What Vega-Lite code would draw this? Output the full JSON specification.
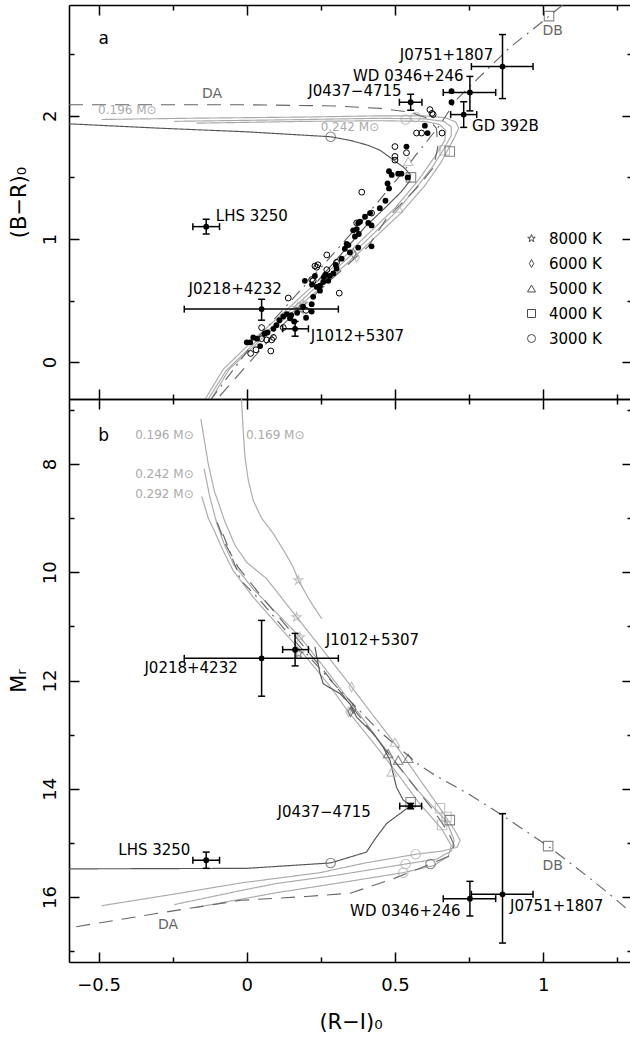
{
  "$schema": "https://vega.github.io/schema/vega-lite/v6.json",
  "padding": {"left": 8, "top": 4, "right": 0, "bottom": 0},
  "spacing": 0,
  "bounds": "flush",
  "config": {
    "font": "DejaVu Sans",
    "view": {"stroke": null},
    "axis": {"domainColor": "black", "domainWidth": 1.6, "tickColor": "black", "tickWidth": 1.5, "grid": false, "labelColor": "black", "titleColor": "black", "labelFontSize": 18, "titleFontSize": 21, "titleFontWeight": "normal", "labelFlush": false, "labelFont": "DejaVu Sans", "titleFont": "DejaVu Sans", "labelOverlap": false}
  },
  "resolve": {"scale": {"shape": "independent"}, "legend": {"shape": "independent"}},
  "datasets": {
    "tracksTop": [
      {"t":"A","x":-0.49,"y":1.97},{"t":"A","x":-0.2,"y":1.98},{"t":"A","x":0.2,"y":1.99},{"t":"A","x":0.45,"y":2.0},{"t":"A","x":0.6,"y":2.0},{"t":"A","x":0.67,"y":1.985},{"t":"A","x":0.705,"y":1.95},{"t":"A","x":0.715,"y":1.9},{"t":"A","x":0.7,"y":1.82},{"t":"A","x":0.655,"y":1.62},{"t":"A","x":0.6,"y":1.43},{"t":"A","x":0.52,"y":1.21},{"t":"A","x":0.37,"y":0.87},{"t":"A","x":0.19,"y":0.48},{"t":"A","x":0.06,"y":0.21},{"t":"A","x":-0.06,"y":-0.06},{"t":"A","x":-0.12,"y":-0.3},
      {"t":"B","x":-0.245,"y":1.955},{"t":"B","x":0.2,"y":1.97},{"t":"B","x":0.45,"y":1.98},{"t":"B","x":0.6,"y":1.975},{"t":"B","x":0.665,"y":1.955},{"t":"B","x":0.69,"y":1.91},{"t":"B","x":0.69,"y":1.84},{"t":"B","x":0.665,"y":1.73},{"t":"B","x":0.625,"y":1.58},{"t":"B","x":0.57,"y":1.41},{"t":"B","x":0.5,"y":1.21},{"t":"B","x":0.355,"y":0.875},{"t":"B","x":0.175,"y":0.48},{"t":"B","x":0.05,"y":0.21},{"t":"B","x":-0.07,"y":-0.07},{"t":"B","x":-0.13,"y":-0.3},
      {"t":"C","x":-0.17,"y":1.94},{"t":"C","x":0.2,"y":1.955},{"t":"C","x":0.45,"y":1.96},{"t":"C","x":0.6,"y":1.955},{"t":"C","x":0.65,"y":1.93},{"t":"C","x":0.672,"y":1.88},{"t":"C","x":0.668,"y":1.8},{"t":"C","x":0.635,"y":1.67},{"t":"C","x":0.58,"y":1.48},{"t":"C","x":0.5,"y":1.25},{"t":"C","x":0.34,"y":0.88},{"t":"C","x":0.16,"y":0.48},{"t":"C","x":0.04,"y":0.22},{"t":"C","x":-0.08,"y":-0.06},{"t":"C","x":-0.14,"y":-0.3},
      {"t":"dark","x":-0.6,"y":1.935},{"t":"dark","x":-0.3,"y":1.9},{"t":"dark","x":0.0,"y":1.87},{"t":"dark","x":0.283,"y":1.83},{"t":"dark","x":0.35,"y":1.8},{"t":"dark","x":0.41,"y":1.76},{"t":"dark","x":0.45,"y":1.72},{"t":"dark","x":0.49,"y":1.65},{"t":"dark","x":0.53,"y":1.58},{"t":"dark","x":0.553,"y":1.52},{"t":"dark","x":0.55,"y":1.47},{"t":"dark","x":0.52,"y":1.38},{"t":"dark","x":0.47,"y":1.26},{"t":"dark","x":0.4,"y":1.1},{"t":"dark","x":0.32,"y":0.88},{"t":"dark","x":0.24,"y":0.66},
      {"t":"DA","x":-0.6,"y":2.09},{"t":"DA","x":0.0,"y":2.09},{"t":"DA","x":0.3,"y":2.08},{"t":"DA","x":0.45,"y":2.06},{"t":"DA","x":0.55,"y":2.03},{"t":"DA","x":0.61,"y":1.98},{"t":"DA","x":0.64,"y":1.9},{"t":"DA","x":0.645,"y":1.75},{"t":"DA","x":0.63,"y":1.58},{"t":"DA","x":0.59,"y":1.46},{"t":"DA","x":0.56,"y":1.38},{"t":"DA","x":0.47,"y":1.16},{"t":"DA","x":0.41,"y":0.94},{"t":"DA","x":0.28,"y":0.66},{"t":"DA","x":0.12,"y":0.3},{"t":"DA","x":-0.1,"y":-0.3},
      {"t":"DB","x":1.066,"y":2.9},{"t":"DB","x":1.02,"y":2.81},{"t":"DB","x":0.99,"y":2.75},{"t":"DB","x":0.89,"y":2.56},{"t":"DB","x":0.8,"y":2.35},{"t":"DB","x":0.707,"y":2.13},{"t":"DB","x":0.65,"y":1.92},{"t":"DB","x":0.6,"y":1.77},{"t":"DB","x":0.57,"y":1.68},{"t":"DB","x":0.53,"y":1.55},{"t":"DB","x":0.47,"y":1.38},{"t":"DB","x":0.38,"y":1.12},{"t":"DB","x":0.27,"y":0.82},{"t":"DB","x":0.15,"y":0.5},{"t":"DB","x":0.03,"y":0.18},{"t":"DB","x":-0.12,"y":-0.3}
    ],
    "tracksBot": [
      {"t":"A","x":-0.155,"y":7.17},{"t":"A","x":-0.13,"y":8.0},{"t":"A","x":-0.11,"y":8.49},{"t":"A","x":-0.075,"y":9.05},{"t":"A","x":-0.04,"y":9.5},{"t":"A","x":0.0,"y":9.82},{"t":"A","x":0.067,"y":10.12},{"t":"A","x":0.15,"y":10.7},{"t":"A","x":0.28,"y":11.6},{"t":"A","x":0.354,"y":12.12},{"t":"A","x":0.42,"y":12.6},{"t":"A","x":0.496,"y":13.14},{"t":"A","x":0.58,"y":13.8},{"t":"A","x":0.652,"y":14.36},{"t":"A","x":0.7,"y":14.75},{"t":"A","x":0.72,"y":14.95},{"t":"A","x":0.71,"y":15.08},{"t":"A","x":0.66,"y":15.15},{"t":"A","x":0.57,"y":15.21},{"t":"A","x":0.4,"y":15.37},{"t":"A","x":0.247,"y":15.55},{"t":"A","x":-0.02,"y":15.74},{"t":"A","x":-0.25,"y":15.95},{"t":"A","x":-0.49,"y":16.16},
      {"t":"B","x":-0.144,"y":8.09},{"t":"B","x":-0.125,"y":8.6},{"t":"B","x":-0.101,"y":9.1},{"t":"B","x":-0.075,"y":9.5},{"t":"B","x":-0.045,"y":9.85},{"t":"B","x":0.02,"y":10.3},{"t":"B","x":0.1,"y":10.75},{"t":"B","x":0.18,"y":11.2},{"t":"B","x":0.26,"y":11.75},{"t":"B","x":0.35,"y":12.4},{"t":"B","x":0.472,"y":13.3},{"t":"B","x":0.58,"y":14.05},{"t":"B","x":0.674,"y":14.6},{"t":"B","x":0.7,"y":14.95},{"t":"B","x":0.69,"y":15.15},{"t":"B","x":0.64,"y":15.3},{"t":"B","x":0.536,"y":15.39},{"t":"B","x":0.3,"y":15.6},{"t":"B","x":0.1,"y":15.75},{"t":"B","x":-0.02,"y":15.88},{"t":"B","x":-0.245,"y":16.14},
      {"t":"C","x":-0.152,"y":8.6},{"t":"C","x":-0.13,"y":9.0},{"t":"C","x":-0.11,"y":9.23},{"t":"C","x":-0.08,"y":9.6},{"t":"C","x":-0.046,"y":9.97},{"t":"C","x":0.02,"y":10.45},{"t":"C","x":0.1,"y":10.95},{"t":"C","x":0.19,"y":11.5},{"t":"C","x":0.28,"y":12.1},{"t":"C","x":0.343,"y":12.58},{"t":"C","x":0.42,"y":13.1},{"t":"C","x":0.496,"y":13.63},{"t":"C","x":0.58,"y":14.25},{"t":"C","x":0.659,"y":14.75},{"t":"C","x":0.69,"y":15.05},{"t":"C","x":0.68,"y":15.25},{"t":"C","x":0.63,"y":15.42},{"t":"C","x":0.528,"y":15.55},{"t":"C","x":0.3,"y":15.75},{"t":"C","x":0.1,"y":15.92},{"t":"C","x":-0.17,"y":16.19},
      {"t":"m169","x":-0.018,"y":6.8},{"t":"m169","x":-0.012,"y":7.4},{"t":"m169","x":-0.006,"y":7.88},{"t":"m169","x":0.005,"y":8.3},{"t":"m169","x":0.022,"y":8.68},{"t":"m169","x":0.05,"y":9.0},{"t":"m169","x":0.09,"y":9.29},{"t":"m169","x":0.125,"y":9.6},{"t":"m169","x":0.157,"y":9.91},{"t":"m169","x":0.174,"y":10.15},{"t":"m169","x":0.21,"y":10.5},{"t":"m169","x":0.253,"y":10.86},
      {"t":"dark","x":0.23,"y":11.38},{"t":"dark","x":0.247,"y":11.87},{"t":"dark","x":0.258,"y":12.06},{"t":"dark","x":0.314,"y":12.24},{"t":"dark","x":0.348,"y":12.43},{"t":"dark","x":0.371,"y":12.68},{"t":"dark","x":0.427,"y":12.98},{"t":"dark","x":0.46,"y":13.23},{"t":"dark","x":0.483,"y":13.47},{"t":"dark","x":0.505,"y":13.97},{"t":"dark","x":0.528,"y":14.21},{"t":"dark","x":0.553,"y":14.3},{"t":"dark","x":0.539,"y":14.37},{"t":"dark","x":0.472,"y":14.64},{"t":"dark","x":0.43,"y":14.95},{"t":"dark","x":0.404,"y":15.17},{"t":"dark","x":0.283,"y":15.37},{"t":"dark","x":0.0,"y":15.47},{"t":"dark","x":-0.6,"y":15.48},
      {"t":"DA","x":-0.1,"y":9.08},{"t":"DA","x":-0.07,"y":9.5},{"t":"DA","x":-0.03,"y":9.9},{"t":"DA","x":0.05,"y":10.45},{"t":"DA","x":0.15,"y":11.1},{"t":"DA","x":0.25,"y":11.75},{"t":"DA","x":0.35,"y":12.45},{"t":"DA","x":0.45,"y":13.15},{"t":"DA","x":0.55,"y":13.85},{"t":"DA","x":0.63,"y":14.4},{"t":"DA","x":0.68,"y":14.8},{"t":"DA","x":0.7,"y":15.05},{"t":"DA","x":0.68,"y":15.25},{"t":"DA","x":0.62,"y":15.39},{"t":"DA","x":0.5,"y":15.65},{"t":"DA","x":0.349,"y":15.93},{"t":"DA","x":0.2,"y":15.99},{"t":"DA","x":-0.02,"y":16.06},{"t":"DA","x":-0.3,"y":16.3},{"t":"DA","x":-0.6,"y":16.57},
      {"t":"DB","x":-0.08,"y":9.3},{"t":"DB","x":-0.02,"y":10.15},{"t":"DB","x":0.045,"y":10.52},{"t":"DB","x":0.15,"y":11.2},{"t":"DB","x":0.3,"y":12.1},{"t":"DB","x":0.45,"y":12.95},{"t":"DB","x":0.584,"y":13.57},{"t":"DB","x":0.635,"y":13.75},{"t":"DB","x":0.75,"y":14.1},{"t":"DB","x":0.854,"y":14.46},{"t":"DB","x":1.017,"y":15.06},{"t":"DB","x":1.15,"y":15.62},{"t":"DB","x":1.236,"y":16.0},{"t":"DB","x":1.3,"y":16.3}
    ],
    "markTop": [
      {"x":0.17,"y":0.44,"T":"8000 K","tone":"light"},{"x":0.19,"y":0.47,"T":"8000 K","tone":"light"},{"x":0.18,"y":0.43,"T":"8000 K","tone":"dark"},
      {"x":0.371,"y":0.85,"T":"6000 K","tone":"light"},{"x":0.36,"y":0.88,"T":"6000 K","tone":"dark"},
      {"x":0.545,"y":1.63,"T":"5000 K","tone":"light"},{"x":0.511,"y":1.25,"T":"5000 K","tone":"light"},
      {"x":0.668,"y":1.72,"T":"4000 K","tone":"light"},{"x":0.685,"y":1.71,"T":"4000 K","tone":"dark"},{"x":0.554,"y":1.5,"T":"4000 K","tone":"dark"},{"x":1.02,"y":2.81,"T":"4000 K","tone":"dark"},
      {"x":0.536,"y":1.97,"T":"3000 K","tone":"light"},{"x":0.57,"y":1.99,"T":"3000 K","tone":"light"},{"x":0.283,"y":1.83,"T":"3000 K","tone":"dark"}
    ],
    "markBot": [
      {"x":0.174,"y":10.15,"T":"8000 K","tone":"light"},{"x":0.168,"y":10.83,"T":"8000 K","tone":"light"},{"x":0.18,"y":11.2,"T":"8000 K","tone":"light"},{"x":0.175,"y":11.5,"T":"8000 K","tone":"dark"},
      {"x":0.354,"y":12.12,"T":"6000 K","tone":"light"},{"x":0.343,"y":12.58,"T":"6000 K","tone":"light"},{"x":0.359,"y":12.52,"T":"6000 K","tone":"dark"},{"x":0.35,"y":12.58,"T":"6000 K","tone":"dark"},
      {"x":0.5,"y":13.14,"T":"5000 K","tone":"light"},{"x":0.489,"y":13.69,"T":"5000 K","tone":"light"},{"x":0.477,"y":13.35,"T":"5000 K","tone":"dark"},{"x":0.511,"y":13.47,"T":"5000 K","tone":"dark"},{"x":0.545,"y":13.44,"T":"5000 K","tone":"dark"},
      {"x":0.652,"y":14.36,"T":"4000 K","tone":"light"},{"x":0.674,"y":14.52,"T":"4000 K","tone":"light"},{"x":0.659,"y":14.67,"T":"4000 K","tone":"light"},{"x":0.553,"y":14.25,"T":"4000 K","tone":"dark"},{"x":0.685,"y":14.58,"T":"4000 K","tone":"dark"},{"x":1.017,"y":15.06,"T":"4000 K","tone":"dark"},
      {"x":0.57,"y":15.21,"T":"3000 K","tone":"light"},{"x":0.536,"y":15.39,"T":"3000 K","tone":"light"},{"x":0.528,"y":15.55,"T":"3000 K","tone":"light"},{"x":0.283,"y":15.37,"T":"3000 K","tone":"dark"},{"x":0.62,"y":15.39,"T":"3000 K","tone":"dark"}
    ],
    "stars": [
      {"x":0.601,"y":1.92,"f":"filled"},{"x":0.61,"y":1.86,"f":"filled"},{"x":0.691,"y":2.2,"f":"filled"},{"x":0.691,"y":2.11,"f":"filled"},{"x":0.539,"y":1.75,"f":"filled"},{"x":0.48,"y":1.55,"f":"filled"},{"x":0.489,"y":1.52,"f":"filled"},{"x":0.511,"y":1.53,"f":"filled"},{"x":0.522,"y":1.53,"f":"filled"},{"x":0.543,"y":1.5,"f":"filled"},{"x":0.475,"y":1.45,"f":"filled"},{"x":0.48,"y":1.41,"f":"filled"},{"x":0.468,"y":1.31,"f":"filled"},{"x":0.449,"y":1.25,"f":"filled"},{"x":0.416,"y":1.21,"f":"filled"},{"x":0.399,"y":1.18,"f":"filled"},{"x":0.382,"y":1.14,"f":"filled"},{"x":0.371,"y":1.08,"f":"filled"},{"x":0.359,"y":1.07,"f":"filled"},{"x":0.376,"y":1.13,"f":"filled"},{"x":0.41,"y":1.13,"f":"filled"},{"x":0.421,"y":1.11,"f":"filled"},{"x":0.378,"y":1.04,"f":"filled"},{"x":0.365,"y":1.02,"f":"filled"},{"x":0.331,"y":0.92,"f":"filled"},{"x":0.343,"y":0.95,"f":"filled"},{"x":0.376,"y":0.93,"f":"filled"},{"x":0.421,"y":0.94,"f":"filled"},{"x":0.337,"y":0.96,"f":"filled"},{"x":0.348,"y":0.89,"f":"filled"},{"x":0.303,"y":0.76,"f":"filled"},{"x":0.292,"y":0.72,"f":"filled"},{"x":0.275,"y":0.66,"f":"filled"},{"x":0.258,"y":0.65,"f":"filled"},{"x":0.247,"y":0.62,"f":"filled"},{"x":0.236,"y":0.61,"f":"filled"},{"x":0.23,"y":0.7,"f":"filled"},{"x":0.26,"y":0.69,"f":"filled"},{"x":0.28,"y":0.7,"f":"filled"},{"x":0.22,"y":0.63,"f":"filled"},{"x":0.196,"y":0.66,"f":"filled"},{"x":0.247,"y":0.58,"f":"filled"},{"x":0.224,"y":0.53,"f":"filled"},{"x":0.219,"y":0.47,"f":"filled"},{"x":0.2,"y":0.36,"f":"filled"},{"x":0.219,"y":0.41,"f":"filled"},{"x":0.19,"y":0.45,"f":"filled"},{"x":0.17,"y":0.4,"f":"filled"},{"x":0.15,"y":0.38,"f":"filled"},{"x":0.135,"y":0.39,"f":"filled"},{"x":0.123,"y":0.37,"f":"filled"},{"x":0.11,"y":0.34,"f":"filled"},{"x":0.1,"y":0.3,"f":"filled"},{"x":0.146,"y":0.355,"f":"filled"},{"x":0.16,"y":0.33,"f":"filled"},{"x":0.09,"y":0.27,"f":"filled"},{"x":0.07,"y":0.24,"f":"filled"},{"x":0.022,"y":0.2,"f":"filled"},{"x":0.011,"y":0.16,"f":"filled"},{"x":0.0,"y":0.16,"f":"filled"},{"x":0.034,"y":0.19,"f":"filled"},{"x":0.045,"y":0.13,"f":"filled"},{"x":0.06,"y":0.23,"f":"filled"},{"x":0.3,"y":0.79,"f":"filled"},{"x":0.32,"y":0.84,"f":"filled"},{"x":0.265,"y":0.71,"f":"filled"},
      {"x":0.573,"y":1.86,"f":"open"},{"x":0.59,"y":1.86,"f":"open"},{"x":0.659,"y":1.86,"f":"open"},{"x":0.618,"y":2.05,"f":"open"},{"x":0.625,"y":2.02,"f":"open"},{"x":0.629,"y":2.01,"f":"open"},{"x":0.5,"y":1.75,"f":"open"},{"x":0.539,"y":1.7,"f":"open"},{"x":0.5,"y":1.67,"f":"open"},{"x":0.5,"y":1.64,"f":"open"},{"x":0.388,"y":1.38,"f":"open"},{"x":0.421,"y":1.21,"f":"open"},{"x":0.371,"y":1.13,"f":"open"},{"x":0.27,"y":0.87,"f":"open"},{"x":0.303,"y":0.81,"f":"open"},{"x":0.236,"y":0.77,"f":"open"},{"x":0.27,"y":0.75,"f":"open"},{"x":0.224,"y":0.66,"f":"open"},{"x":0.312,"y":0.56,"f":"open"},{"x":0.219,"y":0.67,"f":"open"},{"x":0.23,"y":0.78,"f":"open"},{"x":0.14,"y":0.52,"f":"open"},{"x":0.05,"y":0.28,"f":"open"},{"x":0.05,"y":0.19,"f":"open"},{"x":0.067,"y":0.18,"f":"open"},{"x":0.084,"y":0.18,"f":"open"},{"x":0.09,"y":0.2,"f":"open"},{"x":0.031,"y":0.1,"f":"open"},{"x":0.013,"y":0.07,"f":"open"},{"x":0.081,"y":0.09,"f":"open"},{"x":0.123,"y":0.28,"f":"open"},{"x":0.2,"y":0.42,"f":"open"},{"x":0.24,"y":0.79,"f":"open"}
    ],
    "objTop": [
      {"name":"J0751+1807","x":0.863,"y":2.4,"xlo":0.758,"xhi":0.966,"ylo":2.14,"yhi":2.66},
      {"name":"WD 0346+246","x":0.753,"y":2.19,"xlo":0.663,"xhi":0.84,"ylo":2.04,"yhi":2.32},
      {"name":"J0437−4715","x":0.553,"y":2.11,"xlo":0.515,"xhi":0.591,"ylo":2.045,"yhi":2.175},
      {"name":"GD 392B","x":0.732,"y":2.01,"xlo":0.688,"xhi":0.776,"ylo":1.906,"yhi":2.114},
      {"name":"LHS 3250","x":-0.137,"y":1.1,"xlo":-0.182,"xhi":-0.092,"ylo":1.04,"yhi":1.16},
      {"name":"J0218+4232","x":0.05,"y":0.43,"xlo":-0.211,"xhi":0.309,"ylo":0.34,"yhi":0.51},
      {"name":"J1012+5307","x":0.163,"y":0.27,"xlo":0.121,"xhi":0.208,"ylo":0.21,"yhi":0.33}
    ],
    "objBot": [
      {"name":"J0218+4232","x":0.05,"y":11.59,"xlo":-0.211,"xhi":0.309,"ylo":10.89,"yhi":12.29},
      {"name":"J1012+5307","x":0.163,"y":11.43,"xlo":0.121,"xhi":0.208,"ylo":11.13,"yhi":11.73},
      {"name":"J0437−4715","x":0.553,"y":14.32,"xlo":0.516,"xhi":0.59,"ylo":14.27,"yhi":14.37},
      {"name":"LHS 3250","x":-0.137,"y":15.32,"xlo":-0.182,"xhi":-0.092,"ylo":15.17,"yhi":15.47},
      {"name":"WD 0346+246","x":0.753,"y":16.03,"xlo":0.663,"xhi":0.84,"ylo":15.71,"yhi":16.35},
      {"name":"J0751+1807","x":0.863,"y":15.95,"xlo":0.758,"xhi":0.966,"ylo":14.46,"yhi":16.85}
    ],
    "labTop": [
      {"k":"obj","text":"J0751+1807","x":0.674,"y":2.49},
      {"k":"obj","text":"WD 0346+246","x":0.545,"y":2.32},
      {"k":"obj","text":"J0437−4715","x":0.365,"y":2.2},
      {"k":"obj","text":"GD 392B","x":0.873,"y":1.915},
      {"k":"obj","text":"LHS 3250","x":0.017,"y":1.183},
      {"k":"obj","text":"J0218+4232","x":-0.039,"y":0.591},
      {"k":"obj","text":"J1012+5307","x":0.373,"y":0.21},
      {"k":"model","text":"DA","x":-0.117,"y":2.18},
      {"k":"model","text":"DB","x":1.032,"y":2.69},
      {"k":"mass","text":"0.196 M⊙","x":-0.403,"y":2.045},
      {"k":"mass","text":"0.242 M⊙","x":0.348,"y":1.91},
      {"k":"panel","text":"a","x":-0.483,"y":2.62}
    ],
    "labBot": [
      {"k":"obj","text":"J0218+4232","x":-0.188,"y":11.77},
      {"k":"obj","text":"J1012+5307","x":0.424,"y":11.25},
      {"k":"obj","text":"J0437−4715","x":0.261,"y":14.43},
      {"k":"obj","text":"LHS 3250","x":-0.312,"y":15.14},
      {"k":"obj","text":"WD 0346+246","x":0.535,"y":16.25},
      {"k":"obj","text":"J0751+1807","x":1.046,"y":16.17},
      {"k":"model","text":"DA","x":-0.266,"y":16.51},
      {"k":"model","text":"DB","x":1.032,"y":15.42},
      {"k":"mass","text":"0.196 M⊙","x":-0.278,"y":7.46},
      {"k":"mass","text":"0.169 M⊙","x":0.096,"y":7.46},
      {"k":"mass","text":"0.242 M⊙","x":-0.278,"y":8.18},
      {"k":"mass","text":"0.292 M⊙","x":-0.278,"y":8.56},
      {"k":"panel","text":"b","x":-0.483,"y":7.48}
    ]
  },
  "vconcat": [
    {
      "width": 563,
      "height": 394,
      "resolve": {"axis": {"x": "independent", "y": "independent"}},
      "layer": [
        {
          "data": {"name": "tracksTop"},
          "transform": [{"window": [{"op": "row_number", "as": "i"}], "groupby": ["t"]}],
          "mark": {"type": "line", "strokeWidth": 1.15, "clip": true},
          "encoding": {
            "x": {"field": "x", "type": "quantitative", "scale": {"domain": [-0.6, 1.3], "nice": false, "zero": false},
              "axis": {"orient": "bottom", "values": [-0.5, -0.25, 0, 0.25, 0.5, 0.75, 1, 1.25], "labels": false, "title": null, "tickSize": {"condition": {"test": "datum.value % 0.5 !== 0", "value": -5}, "value": -10}}},
            "y": {"field": "y", "type": "quantitative", "scale": {"domain": [-0.3, 2.9], "nice": false, "zero": false},
              "axis": {"orient": "left", "values": [0, 0.5, 1, 1.5, 2, 2.5], "labelExpr": "datum.value % 1 === 0 ? format(datum.value, 'd') : ''", "labelAngle": -90, "labelAlign": "center", "labelBaseline": "alphabetic", "labelPadding": 24, "tickSize": {"condition": {"test": "datum.value % 1 !== 0", "value": -5}, "value": -10}, "title": "(B−R)₀", "titleX": -44, "titleBaseline": "alphabetic", "titleAngle": -90}},
            "color": {"field": "t", "type": "nominal", "scale": {"domain": ["A", "B", "C", "m169", "dark", "DA", "DB"], "range": ["#aaaaaa", "#aaaaaa", "#aaaaaa", "#aaaaaa", "#555555", "#666666", "#666666"]}, "legend": null},
            "strokeDash": {"field": "t", "type": "nominal", "scale": {"domain": ["A", "B", "C", "m169", "dark", "DA", "DB"], "range": [[1, 0], [1, 0], [1, 0], [1, 0], [1, 0], [14, 9], [12, 6, 2, 6]]}, "legend": null},
            "order": {"field": "i", "type": "quantitative"}
          }
        },
        {
          "data": {"name": "markTop"},
          "mark": {"type": "point", "filled": false, "size": 90, "strokeWidth": 1.1},
          "encoding": {
            "x": {"field": "x", "type": "quantitative", "scale": {"domain": [-0.6, 1.3], "nice": false, "zero": false},
              "axis": {"orient": "top", "values": [-0.5, -0.25, 0, 0.25, 0.5, 0.75, 1, 1.25], "labels": false, "title": null, "tickSize": {"condition": {"test": "datum.value % 0.5 !== 0", "value": -5}, "value": -10}}},
            "y": {"field": "y", "type": "quantitative", "scale": {"domain": [-0.3, 2.9], "nice": false, "zero": false},
              "axis": {"orient": "right", "values": [0, 0.5, 1, 1.5, 2, 2.5], "labels": false, "title": null, "tickSize": {"condition": {"test": "datum.value % 1 !== 0", "value": -5}, "value": -10}}},
            "shape": {"field": "T", "type": "nominal",
              "scale": {"domain": ["8000 K", "6000 K", "5000 K", "4000 K", "3000 K"], "range": ["M0,-1L0.2245,-0.309L0.9511,-0.309L0.3633,0.118L0.5878,0.809L0,0.382L-0.5878,0.809L-0.3633,0.118L-0.9511,-0.309L-0.2245,-0.309Z", "M0,-1L0.55,0L0,1L-0.55,0Z", "triangle-up", "square", "circle"]},
              "legend": {"orient": "none", "legendX": 455, "legendY": 226, "title": null, "direction": "vertical", "symbolStrokeColor": "black", "symbolFillColor": "transparent", "symbolSize": 64, "symbolStrokeWidth": 1, "labelFontSize": 15, "labelFont": "DejaVu Sans", "labelColor": "black", "labelOffset": 10, "rowPadding": 9, "padding": 0}},
            "stroke": {"field": "tone", "type": "nominal", "scale": {"domain": ["light", "dark"], "range": ["#aaaaaa", "#555555"]}, "legend": null}
          }
        },
        {
          "data": {"name": "stars"},
          "transform": [{"filter": "datum.f === 'filled'"}],
          "mark": {"type": "point", "filled": true, "size": 34, "color": "black", "opacity": 1},
          "encoding": {"x": {"field": "x", "type": "quantitative", "axis": null}, "y": {"field": "y", "type": "quantitative", "axis": null}}
        },
        {
          "data": {"name": "stars"},
          "transform": [{"filter": "datum.f === 'open'"}],
          "mark": {"type": "point", "filled": false, "size": 34, "color": "black", "strokeWidth": 1, "opacity": 1},
          "encoding": {"x": {"field": "x", "type": "quantitative", "axis": null}, "y": {"field": "y", "type": "quantitative", "axis": null}}
        },
        {
          "data": {"name": "objTop"},
          "mark": {"type": "rule", "color": "black", "strokeWidth": 1.5},
          "encoding": {"x": {"field": "xlo", "type": "quantitative", "axis": null}, "x2": {"field": "xhi"}, "y": {"field": "y", "type": "quantitative", "axis": null}}
        },
        {
          "data": {"name": "objTop"},
          "mark": {"type": "rule", "color": "black", "strokeWidth": 1.5},
          "encoding": {"x": {"field": "x", "type": "quantitative", "axis": null}, "y": {"field": "ylo", "type": "quantitative", "axis": null}, "y2": {"field": "yhi"}}
        },
        {
          "data": {"name": "objTop"},
          "transform": [{"fold": ["xlo", "xhi"], "as": ["k", "v"]}],
          "mark": {"type": "tick", "orient": "vertical", "size": 7, "thickness": 1.5, "color": "black", "opacity": 1},
          "encoding": {"x": {"field": "v", "type": "quantitative", "axis": null}, "y": {"field": "y", "type": "quantitative", "axis": null}}
        },
        {
          "data": {"name": "objTop"},
          "transform": [{"fold": ["ylo", "yhi"], "as": ["k", "v"]}],
          "mark": {"type": "tick", "orient": "horizontal", "size": 7, "thickness": 1.5, "color": "black", "opacity": 1},
          "encoding": {"x": {"field": "x", "type": "quantitative", "axis": null}, "y": {"field": "v", "type": "quantitative", "axis": null}}
        },
        {
          "data": {"name": "objTop"},
          "mark": {"type": "point", "filled": true, "size": 34, "color": "black", "opacity": 1},
          "encoding": {"x": {"field": "x", "type": "quantitative", "axis": null}, "y": {"field": "y", "type": "quantitative", "axis": null}}
        },
        {
          "data": {"name": "labTop"},
          "transform": [{"filter": "datum.k === 'obj'"}],
          "mark": {"type": "text", "fontSize": 15, "color": "black", "align": "center", "baseline": "middle"},
          "encoding": {"x": {"field": "x", "type": "quantitative", "axis": null}, "y": {"field": "y", "type": "quantitative", "axis": null}, "text": {"field": "text"}}
        },
        {
          "data": {"name": "labTop"},
          "transform": [{"filter": "datum.k === 'model'"}],
          "mark": {"type": "text", "fontSize": 14, "color": "#666666", "align": "center", "baseline": "middle"},
          "encoding": {"x": {"field": "x", "type": "quantitative", "axis": null}, "y": {"field": "y", "type": "quantitative", "axis": null}, "text": {"field": "text"}}
        },
        {
          "data": {"name": "labTop"},
          "transform": [{"filter": "datum.k === 'mass'"}],
          "mark": {"type": "text", "fontSize": 12, "color": "#aaaaaa", "align": "center", "baseline": "middle"},
          "encoding": {"x": {"field": "x", "type": "quantitative", "axis": null}, "y": {"field": "y", "type": "quantitative", "axis": null}, "text": {"field": "text"}}
        },
        {
          "data": {"name": "labTop"},
          "transform": [{"filter": "datum.k === 'panel'"}],
          "mark": {"type": "text", "fontSize": 17, "color": "black", "align": "center", "baseline": "middle"},
          "encoding": {"x": {"field": "x", "type": "quantitative", "axis": null}, "y": {"field": "y", "type": "quantitative", "axis": null}, "text": {"field": "text"}}
        }
      ]
    },
    {
      "width": 563,
      "height": 563,
      "resolve": {"axis": {"x": "independent", "y": "independent"}},
      "layer": [
        {
          "data": {"name": "tracksBot"},
          "transform": [{"window": [{"op": "row_number", "as": "i"}], "groupby": ["t"]}],
          "mark": {"type": "line", "strokeWidth": 1.15, "clip": true},
          "encoding": {
            "x": {"field": "x", "type": "quantitative", "scale": {"domain": [-0.6, 1.3], "nice": false, "zero": false},
              "axis": {"orient": "bottom", "values": [-0.5, -0.25, 0, 0.25, 0.5, 0.75, 1, 1.25], "labelExpr": "datum.value % 0.5 === 0 ? format(datum.value, '~g') : ''", "labelPadding": 24, "tickSize": {"condition": {"test": "datum.value % 0.5 !== 0", "value": -5}, "value": -10}, "title": "(R−I)₀", "titleY": 66, "titleBaseline": "alphabetic"}},
            "y": {"field": "y", "type": "quantitative", "scale": {"domain": [6.8, 17.2], "nice": false, "zero": false, "reverse": true},
              "axis": {"orient": "left", "values": [7, 8, 9, 10, 11, 12, 13, 14, 15, 16, 17], "labelExpr": "datum.value % 2 === 0 ? format(datum.value, 'd') : ''", "labelAngle": -90, "labelAlign": "center", "labelBaseline": "alphabetic", "labelPadding": 24, "tickSize": {"condition": {"test": "datum.value % 2 !== 0", "value": -5}, "value": -10}, "title": "Mᵣ", "titleX": -44, "titleBaseline": "alphabetic", "titleAngle": -90}},
            "color": {"field": "t", "type": "nominal", "scale": {"domain": ["A", "B", "C", "m169", "dark", "DA", "DB"], "range": ["#aaaaaa", "#aaaaaa", "#aaaaaa", "#aaaaaa", "#555555", "#666666", "#666666"]}, "legend": null},
            "strokeDash": {"field": "t", "type": "nominal", "scale": {"domain": ["A", "B", "C", "m169", "dark", "DA", "DB"], "range": [[1, 0], [1, 0], [1, 0], [1, 0], [1, 0], [14, 9], [12, 6, 2, 6]]}, "legend": null},
            "order": {"field": "i", "type": "quantitative"}
          }
        },
        {
          "data": {"name": "markBot"},
          "mark": {"type": "point", "filled": false, "size": 90, "strokeWidth": 1.1},
          "encoding": {
            "x": {"field": "x", "type": "quantitative", "scale": {"domain": [-0.6, 1.3], "nice": false, "zero": false},
              "axis": {"orient": "top", "values": [-0.5, -0.25, 0, 0.25, 0.5, 0.75, 1, 1.25], "labels": false, "title": null, "tickSize": {"condition": {"test": "datum.value % 0.5 !== 0", "value": -5}, "value": -10}}},
            "y": {"field": "y", "type": "quantitative", "scale": {"domain": [6.8, 17.2], "nice": false, "zero": false, "reverse": true},
              "axis": {"orient": "right", "values": [7, 8, 9, 10, 11, 12, 13, 14, 15, 16, 17], "labels": false, "title": null, "tickSize": {"condition": {"test": "datum.value % 2 !== 0", "value": -5}, "value": -10}}},
            "shape": {"field": "T", "type": "nominal",
              "scale": {"domain": ["8000 K", "6000 K", "5000 K", "4000 K", "3000 K"], "range": ["M0,-1L0.2245,-0.309L0.9511,-0.309L0.3633,0.118L0.5878,0.809L0,0.382L-0.5878,0.809L-0.3633,0.118L-0.9511,-0.309L-0.2245,-0.309Z", "M0,-1L0.55,0L0,1L-0.55,0Z", "triangle-up", "square", "circle"]},
              "legend": null},
            "stroke": {"field": "tone", "type": "nominal", "scale": {"domain": ["light", "dark"], "range": ["#aaaaaa", "#555555"]}, "legend": null}
          }
        },
        {
          "data": {"name": "objBot"},
          "mark": {"type": "rule", "color": "black", "strokeWidth": 1.5},
          "encoding": {"x": {"field": "xlo", "type": "quantitative", "axis": null}, "x2": {"field": "xhi"}, "y": {"field": "y", "type": "quantitative", "axis": null}}
        },
        {
          "data": {"name": "objBot"},
          "mark": {"type": "rule", "color": "black", "strokeWidth": 1.5},
          "encoding": {"x": {"field": "x", "type": "quantitative", "axis": null}, "y": {"field": "ylo", "type": "quantitative", "axis": null}, "y2": {"field": "yhi"}}
        },
        {
          "data": {"name": "objBot"},
          "transform": [{"fold": ["xlo", "xhi"], "as": ["k", "v"]}],
          "mark": {"type": "tick", "orient": "vertical", "size": 7, "thickness": 1.5, "color": "black", "opacity": 1},
          "encoding": {"x": {"field": "v", "type": "quantitative", "axis": null}, "y": {"field": "y", "type": "quantitative", "axis": null}}
        },
        {
          "data": {"name": "objBot"},
          "transform": [{"fold": ["ylo", "yhi"], "as": ["k", "v"]}],
          "mark": {"type": "tick", "orient": "horizontal", "size": 7, "thickness": 1.5, "color": "black", "opacity": 1},
          "encoding": {"x": {"field": "x", "type": "quantitative", "axis": null}, "y": {"field": "v", "type": "quantitative", "axis": null}}
        },
        {
          "data": {"name": "objBot"},
          "mark": {"type": "point", "filled": true, "size": 34, "color": "black", "opacity": 1},
          "encoding": {"x": {"field": "x", "type": "quantitative", "axis": null}, "y": {"field": "y", "type": "quantitative", "axis": null}}
        },
        {
          "data": {"name": "labBot"},
          "transform": [{"filter": "datum.k === 'obj'"}],
          "mark": {"type": "text", "fontSize": 15, "color": "black", "align": "center", "baseline": "middle"},
          "encoding": {"x": {"field": "x", "type": "quantitative", "axis": null}, "y": {"field": "y", "type": "quantitative", "axis": null}, "text": {"field": "text"}}
        },
        {
          "data": {"name": "labBot"},
          "transform": [{"filter": "datum.k === 'model'"}],
          "mark": {"type": "text", "fontSize": 14, "color": "#666666", "align": "center", "baseline": "middle"},
          "encoding": {"x": {"field": "x", "type": "quantitative", "axis": null}, "y": {"field": "y", "type": "quantitative", "axis": null}, "text": {"field": "text"}}
        },
        {
          "data": {"name": "labBot"},
          "transform": [{"filter": "datum.k === 'mass'"}],
          "mark": {"type": "text", "fontSize": 12, "color": "#aaaaaa", "align": "center", "baseline": "middle"},
          "encoding": {"x": {"field": "x", "type": "quantitative", "axis": null}, "y": {"field": "y", "type": "quantitative", "axis": null}, "text": {"field": "text"}}
        },
        {
          "data": {"name": "labBot"},
          "transform": [{"filter": "datum.k === 'panel'"}],
          "mark": {"type": "text", "fontSize": 17, "color": "black", "align": "center", "baseline": "middle"},
          "encoding": {"x": {"field": "x", "type": "quantitative", "axis": null}, "y": {"field": "y", "type": "quantitative", "axis": null}, "text": {"field": "text"}}
        }
      ]
    }
  ]
}
